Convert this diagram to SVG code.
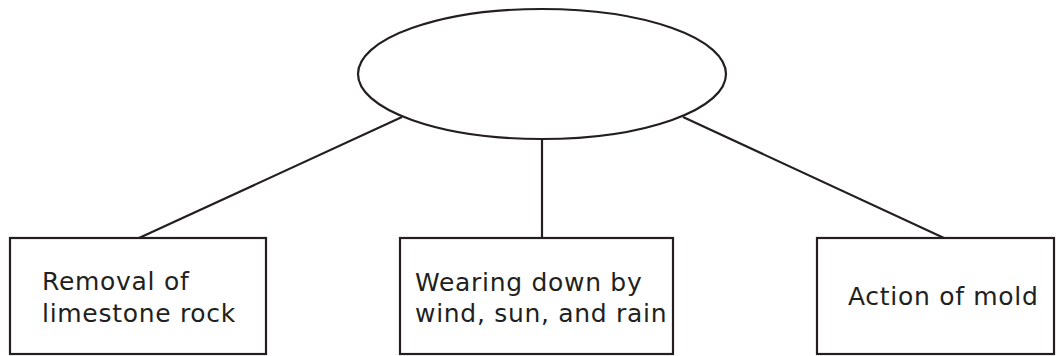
<svg xmlns="http://www.w3.org/2000/svg" width="1064" height="356" viewBox="0 0 1064 356">
<style>
.s{fill:#fff;stroke:#231f20;stroke-width:2.2}
.c line{stroke:#231f20;stroke-width:2.2}
text{font-family:"DejaVu Sans",Verdana,sans-serif;font-size:25px;letter-spacing:0.7px;fill:#231f20}
</style>
<rect width="1064" height="356" fill="#fff"/>
<g id="connectors" class="c">
<line x1="402" y1="117" x2="139" y2="238"/>
<line x1="542" y1="139" x2="542" y2="238"/>
<line x1="683" y1="117" x2="944" y2="238"/>
</g>
<g id="top"><ellipse class="s" cx="542" cy="74" rx="184" ry="65"/></g>
<g id="n1"><rect class="s" x="10" y="238" width="256" height="116"/>
<text x="42" y="290">Removal of</text><text x="42" y="322">limestone rock</text></g>
<g id="n2"><rect class="s" x="400" y="238" width="273" height="116"/>
<text x="415" y="291">Wearing down by</text><text x="415" y="322">wind, sun, and rain</text></g>
<g id="n3"><rect class="s" x="817" y="238" width="237" height="116"/>
<text x="848" y="305">Action of mold</text></g>
</svg>
